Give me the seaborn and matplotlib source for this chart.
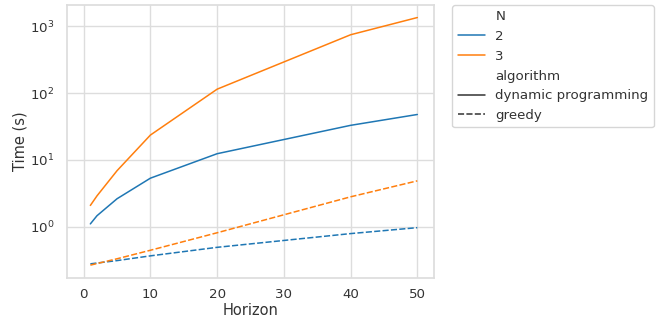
import numpy as np
import pandas as pd
import seaborn as sns
import matplotlib
matplotlib.use("Agg")
import matplotlib.pyplot as plt

horizon = [1, 2, 5, 10, 20, 40, 50]
dp_n2 = [1.1, 1.46, 2.62, 5.33, 12.4, 33.0, 48.0]
dp_n3 = [2.08, 2.9, 6.9, 23.6, 115.0, 752.0, 1362.0]
greedy_n2 = [0.277, 0.285, 0.31, 0.365, 0.49, 0.787, 0.966]
greedy_n3 = [0.265, 0.28, 0.33, 0.443, 0.81, 2.8, 4.86]

rows = []
for n, alg, vals in [(2, "dynamic programming", dp_n2), (3, "dynamic programming", dp_n3),
                     (2, "greedy", greedy_n2), (3, "greedy", greedy_n3)]:
    for h, v in zip(horizon, vals):
        rows.append({"Horizon": h, "Time (s)": v, "N": n, "algorithm": alg})
df = pd.DataFrame(rows)

sns.set_theme(style="whitegrid", font_scale=0.88)
plt.rcParams["axes.edgecolor"] = "#dddddd"
plt.rcParams["grid.color"] = "#dddddd"
plt.rcParams["text.color"] = "#333333"
plt.rcParams["axes.labelcolor"] = "#333333"
plt.rcParams["xtick.color"] = "#333333"
plt.rcParams["ytick.color"] = "#333333"
fig = plt.figure(figsize=(6.69, 3.2), dpi=100)
ax = fig.add_axes([67/669, 1-278/320, (434-67)/669, (278-5)/320])
sns.lineplot(data=df, x="Horizon", y="Time (s)", hue="N", style="algorithm",
             palette=["#1f77b4", "#ff7f0e"], ax=ax, linewidth=1.1)
ax.set_yscale("log")
ax.set_ylim(0.17, 2100)
ax.set_xlim(-2.5, 52.5)
ax.tick_params(axis="x", pad=1.5)
ax.tick_params(axis="y", pad=3)
ax.xaxis.labelpad = 1
ax.yaxis.labelpad = 2
ax.legend(loc="upper left", bbox_to_anchor=(1.05, 1.0), borderaxespad=0)
fig.savefig("out.png", dpi=100)
